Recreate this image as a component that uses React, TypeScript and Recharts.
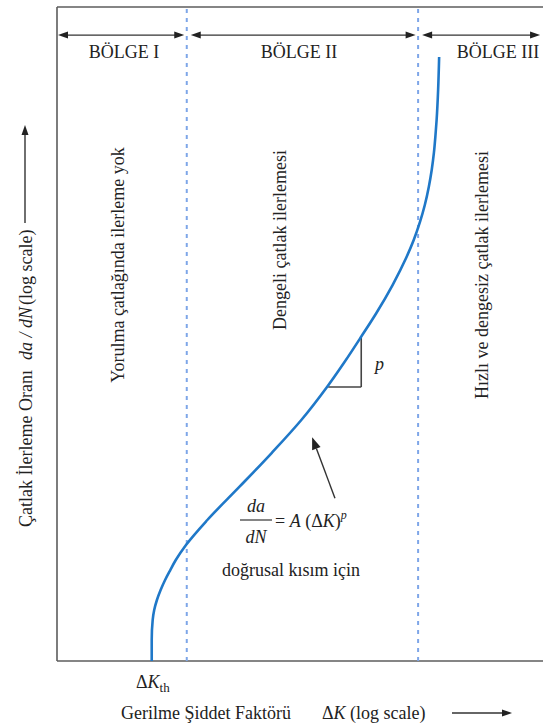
import { LineChart, Line, XAxis, YAxis, ReferenceLine } from 'recharts';

// da/dN – ΔK curve, both axes in log units mapped to 0..100
const curveX = [
  19.49, 19.49, 19.69, 20.0, 20.56, 21.32, 22.24, 23.31, 24.44, 26.54, 30.93, 37.51, 44.16, 50.27, 55.56, 59.16,
  62.55, 65.72, 69.05, 71.83, 73.4, 74.69, 75.68, 76.5, 77.1, 77.55, 77.88, 78.11, 78.42, 78.63,
];
const curveY = [
  0, 3.21, 6.27, 7.8, 9.33, 10.86, 12.39, 13.91, 15.44, 17.74, 21.56, 26.61, 31.8, 36.85, 41.9, 45.72,
  49.54, 53.21, 57.49, 61.62, 64.37, 67.13, 69.72, 72.48, 75.08, 77.68, 80.43, 82.72, 87.31, 92.35,
];

// region borders (ΔK) and names
const regionBounds = [0, 26.7, 74.3, 99.4];
const regionNames = ['BÖLGE I', 'BÖLGE II', 'BÖLGE III'];
const regionNotes = ['Yorulma çatlağında ilerleme yok', 'Dengeli çatlak ilerlemesi', 'Hızlı ve dengesiz çatlak ilerlemesi'];
const regionArrowY = 95.7;

// slope triangle on the linear part and the pointer to it
const slopeX = [55.8, 62.6];
const slopeY = [41.9, 49.4];
const pointerFrom = { x: 57.2, y: 24.9 };
const pointerTo = { x: 52.5, y: 34.2 };

const data = curveX.map((x, i) => ({ x, y: curveY[i] }));

const W = 543;
const H = 724;
const FONT = '"Liberation Serif", "Times New Roman", Times, "DejaVu Serif", serif';
const INK = '#222';
const FRAME = '#5c5c5c';
const CURVE = '#1f78c8';
const DASH = '#7ea6e8';

function head(x: number, y: number, dir: number, len = 10, half = 3.5, fill = INK) {
  return <polygon points={`${x},${y} ${x - dir * len},${y - half} ${x - dir * len},${y + half}`} fill={fill} />;
}

const doubleArrow = (insetL: number, insetR: number) => (p: any) => {
  const a = p.x1 + insetL;
  const b = p.x2 - insetR;
  return (
    <g>
      <line x1={a + 6} y1={p.y1} x2={b - 6} y2={p.y2} stroke="#333" strokeWidth={1.4} />
      {head(a, p.y1, -1)}
      {head(b, p.y2, 1)}
    </g>
  );
};

const pointerArrow = (p: any) => {
  const dx = p.x2 - p.x1;
  const dy = p.y2 - p.y1;
  const L = Math.hypot(dx, dy);
  const ux = dx / L;
  const uy = dy / L;
  const bx = p.x2 - ux * 12;
  const by = p.y2 - uy * 12;
  return (
    <g>
      <line x1={p.x1} y1={p.y1} x2={bx} y2={by} stroke="#333" strokeWidth={1.4} />
      <polygon
        points={`${p.x2},${p.y2} ${bx - uy * 4.5},${by + ux * 4.5} ${bx + uy * 4.5},${by - ux * 4.5}`}
        fill={INK}
      />
    </g>
  );
};

export default function App() {
  const txt = { style: { fontFamily: FONT, fontSize: 18 }, fill: INK } as const;
  return (
    <div style={{ position: 'absolute', left: 0, top: 0, width: W, height: H, background: '#fff', fontFamily: FONT }}>
      <LineChart width={W} height={H} data={data} margin={{ top: 7, right: 0, bottom: 63, left: 57 }}>
        <XAxis type="number" dataKey="x" domain={[0, 100]} hide />
        <YAxis type="number" domain={[0, 100]} hide />

        {/* frame: top, bottom, left */}
        <ReferenceLine y={100} stroke={FRAME} strokeWidth={1.6} />
        <ReferenceLine y={0} stroke={FRAME} strokeWidth={1.6} />
        <ReferenceLine x={0} stroke={FRAME} strokeWidth={1.6} />

        {/* region borders */}
        {regionBounds.slice(1, 3).map((b) => (
          <ReferenceLine key={b} x={b} stroke={DASH} strokeWidth={2} strokeDasharray="4 5" />
        ))}

        {/* region span arrows */}
        {regionNames.map((n, i) => (
          <ReferenceLine
            key={n}
            segment={[
              { x: regionBounds[i], y: regionArrowY },
              { x: regionBounds[i + 1], y: regionArrowY },
            ]}
            shape={doubleArrow(i === 0 ? 1 : 4, i === 2 ? 0 : 2.5)}
          />
        ))}

        {/* slope triangle */}
        <ReferenceLine
          segment={[{ x: slopeX[0], y: slopeY[0] }, { x: slopeX[1], y: slopeY[0] }]}
          stroke="#444"
          strokeWidth={1.6}
        />
        <ReferenceLine
          segment={[{ x: slopeX[1], y: slopeY[0] }, { x: slopeX[1], y: slopeY[1] }]}
          stroke="#444"
          strokeWidth={1.6}
        />
        <ReferenceLine segment={[pointerFrom, pointerTo]} shape={pointerArrow} />

        <Line
          dataKey="y"
          type="monotoneY"
          stroke={CURVE}
          strokeWidth={2.6}
          dot={false}
          isAnimationActive={false}
        />
      </LineChart>

      {/* titles and annotations */}
      <svg width={W} height={H} style={{ position: 'absolute', left: 0, top: 0, pointerEvents: 'none' }}>
        <text {...txt} x={124} y={58} textAnchor="middle">{regionNames[0]}</text>
        <text {...txt} x={299} y={58} textAnchor="middle">{regionNames[1]}</text>
        <text {...txt} x={498} y={58} textAnchor="middle">{regionNames[2]}</text>

        <text {...txt} textAnchor="middle" transform="translate(124,265) rotate(-90)">{regionNotes[0]}</text>
        <text {...txt} textAnchor="middle" transform="translate(286,240) rotate(-90)">{regionNotes[1]}</text>
        <text {...txt} textAnchor="middle" transform="translate(488,275) rotate(-90)">{regionNotes[2]}</text>

        <text {...txt} x={375} y={370} fontStyle="italic">p</text>

        <text {...txt} x={256} y={512} textAnchor="middle" fontStyle="italic">da</text>
        <line x1={240} y1={520} x2={272} y2={520} stroke="#333" strokeWidth={1.2} />
        <text {...txt} x={256} y={543} textAnchor="middle" fontStyle="italic">dN</text>
        <text {...txt} x={275} y={527}>
          = <tspan fontStyle="italic">A</tspan> (Δ<tspan fontStyle="italic">K</tspan>)
          <tspan fontStyle="italic" fontSize={12} dy={-8}>p</tspan>
        </text>
        <text {...txt} x={222} y={576}>doğrusal kısım için</text>

        <text {...txt} x={136} y={688}>
          Δ<tspan fontStyle="italic">K</tspan>
          <tspan style={{ fontSize: 13 }} dy={4}>th</tspan>
        </text>

        <text {...txt} x={121} y={719}>Gerilme Şiddet Faktörü</text>
        <text {...txt} x={322} y={719}>
          Δ<tspan fontStyle="italic">K</tspan> (log scale)
        </text>
        <line x1={452} y1={713} x2={502} y2={713} stroke="#333" strokeWidth={1.4} />
        {head(512, 713, 1)}

        {/* vertical axis title, read bottom to top */}
        <text {...txt} transform="translate(32,527) rotate(-90)">Çatlak İlerleme Oranı</text>
        <text {...txt} fontStyle="italic" transform="translate(32,360) rotate(-90)">da / dN</text>
        <text {...txt} transform="translate(32,305) rotate(-90)">(log scale)</text>
        <line x1={25} y1={223} x2={25} y2={135} stroke="#333" strokeWidth={1.4} />
        <polygon points="25,125 21.5,135 28.5,135" fill={INK} />
      </svg>
    </div>
  );
}
